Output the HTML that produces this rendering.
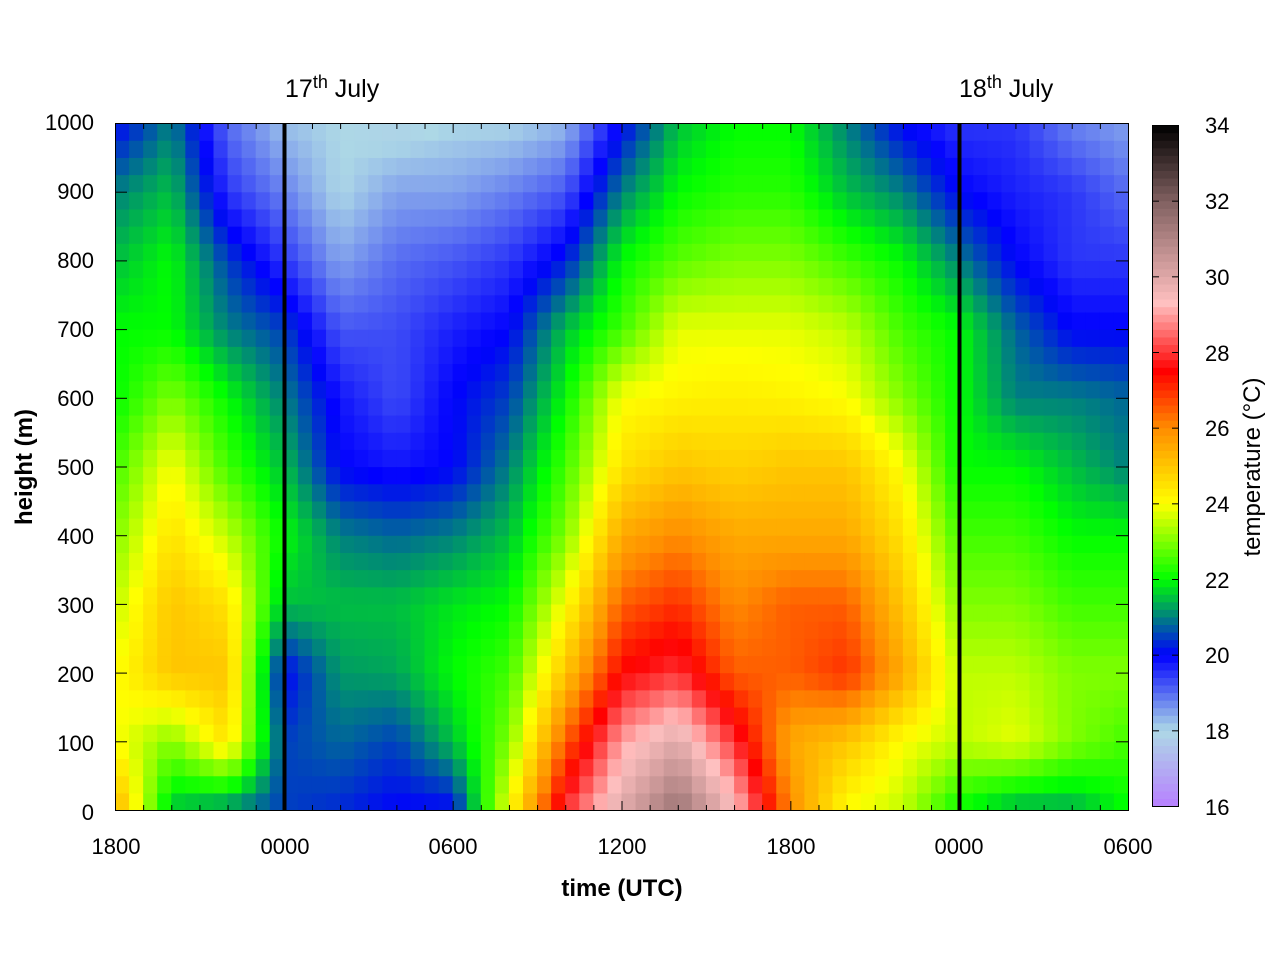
<!DOCTYPE html>
<html><head><meta charset="utf-8"><style>
body{margin:0;background:#fff;}
svg text{font-family:"Liberation Sans",sans-serif;fill:#000;}
</style></head><body>
<svg id="s" width="1280" height="960" xmlns="http://www.w3.org/2000/svg">
<g id="heat"></g>
<g id="cb"></g>
<rect x="115.5" y="123.5" width="1013" height="687" fill="none" stroke="#000" stroke-width="1"/>
<rect x="1152.5" y="125.5" width="26" height="681" fill="none" stroke="#000" stroke-width="1"/>
<line x1="284.5" y1="123" x2="284.5" y2="811" stroke="#000" stroke-width="4"/>
<line x1="959.5" y1="123" x2="959.5" y2="811" stroke="#000" stroke-width="4"/>
<g id="ticks" stroke="#000" stroke-width="1"></g>
<g font-size="22" text-anchor="end">
<text x="94" y="130">1000</text><text x="94" y="199">900</text><text x="94" y="268">800</text>
<text x="94" y="337">700</text><text x="94" y="406">600</text><text x="94" y="475">500</text>
<text x="94" y="544">400</text><text x="94" y="613">300</text><text x="94" y="682">200</text>
<text x="94" y="751">100</text><text x="94" y="820">0</text>
</g>
<g font-size="22" text-anchor="middle">
<text x="116" y="854">1800</text><text x="285" y="854">0000</text><text x="453" y="854">0600</text>
<text x="622" y="854">1200</text><text x="791" y="854">1800</text><text x="959" y="854">0000</text>
<text x="1128" y="854">0600</text>
</g>
<g font-size="22">
<text x="1205" y="133">34</text><text x="1205" y="209">32</text><text x="1205" y="285">30</text>
<text x="1205" y="361">28</text><text x="1205" y="436">26</text><text x="1205" y="512">24</text>
<text x="1205" y="588">22</text><text x="1205" y="663">20</text><text x="1205" y="739">18</text>
<text x="1205" y="815">16</text>
</g>
<text x="622" y="896" font-size="24" font-weight="bold" text-anchor="middle">time (UTC)</text>
<text transform="translate(32,467) rotate(-90)" font-size="24" font-weight="bold" text-anchor="middle">height (m)</text>
<text transform="translate(1260,467) rotate(-90)" font-size="24" text-anchor="middle">temperature (°C)</text>
<text x="285" y="97" font-size="25">17<tspan font-size="18" dy="-9">th</tspan><tspan dy="9"> July</tspan></text>
<text x="959" y="97" font-size="25">18<tspan font-size="18" dy="-9">th</tspan><tspan dy="9"> July</tspan></text>
</svg>
<script>
var G=[
[25.5,24,24,23.5,23,22.5,22,22,21.5,21,20],
[21.5,23,25,25,24.5,24,23,22,22,21.5,21],
[21,24.5,25,24.5,23.5,22.5,22,21,20.5,19.5,19],
[20.5,20.5,20,21.5,22,21.5,21,20.5,19.5,18.8,18.2],
[20.3,20.8,21.2,21.5,21,20,19.8,19.2,18.5,18,18],
[20,20.5,21.3,21.5,20.8,19.8,19.3,19.3,19,18.5,17.8],
[20,21.5,22,21.8,21,20,20,19.7,19.2,18.5,18],
[24,23,22.5,22,21.5,21,20.5,20,19.5,18.8,18],
[28,26.5,25,24,23,22.5,22,21.5,20.2,19.2,18.3],
[30,29,27.5,26.5,25.5,24.5,24,22.5,22,21,20],
[31.5,30,28,27,26,25,24.2,23.8,22.7,22,21.5],
[29.5,28,26.5,26,25.5,24.8,24.3,23.8,23,22.3,22],
[26,25.5,26.5,26.5,25.5,25,24.2,23.8,23,22.3,22],
[24,25,27,26.5,25.5,25,24,23.5,22.5,21.5,21],
[23.5,24,25.5,25,24.5,24,23,22.5,22,21,20],
[22,23.5,23.5,23,22.5,22,22,22,21,20,19.5],
[21.3,23.8,23.5,23,22.5,22,21,20.8,20,19.7,19.5],
[21.3,23,23,22.5,22,21.5,21,20,19.5,19.5,18.8],
[22,22.5,23,22.5,22,21,20.8,20,19.5,19,18.5]];
var S=[[16,[184,128,255]],[18,[173,216,230]],[20,[0,0,255]],[21,[0,128,128]],[22,[0,255,0]],[24,[255,255,0]],[26,[255,140,0]],[27.5,[255,0,0]],[29.3,[255,192,192]],[30.5,[200,150,150]],[32,[128,96,96]],[34,[0,0,0]]];
function col(T){T=Math.max(16,Math.min(34,T));for(var i=0;i<S.length-1;i++){if(T<=S[i+1][0]){var f=(T-S[i][0])/(S[i+1][0]-S[i][0]),a=S[i][1],b=S[i+1][1];return"rgb("+[0,1,2].map(function(k){return Math.round(a[k]+(b[k]-a[k])*f)}).join(",")+")";}}return"#000";}
function T(t,h){var x=t/2,y=h/100;var i=Math.min(17,Math.floor(x)),j=Math.min(9,Math.floor(y));var fx=x-i,fy=y-j;
return G[i][j]*(1-fx)*(1-fy)+G[i+1][j]*fx*(1-fy)+G[i][j+1]*(1-fx)*fy+G[i+1][j+1]*fx*fy;}
var h="",NX=72,NY=40,W=1013/NX,H=687/NY;
for(var a=0;a<NX;a++)for(var b=0;b<NY;b++){var t=(a+0.5)*36/NX,z=(b+0.5)*1000/NY;
h+='<rect x="'+(115+a*W).toFixed(2)+'" y="'+(810-(b+1)*H).toFixed(2)+'" width="'+(W+0.6).toFixed(2)+'" height="'+(H+0.6).toFixed(2)+'" fill="'+col(T(t,z))+'"/>';}
document.getElementById("heat").innerHTML=h;
h="";for(var k=0;k<90;k++){var v=16+(k+0.5)*18/90;h+='<rect x="1153" y="'+(806-(k+1)*681/90).toFixed(2)+'" width="25" height="'+(681/90+0.6).toFixed(2)+'" fill="'+col(v)+'"/>';}
document.getElementById("cb").innerHTML=h;
h="";for(var i=0;i<=36;i++){var x=115.5+i*1013/36,L=(i%6==0)?10:6;h+='<line x1="'+x+'" y1="123" x2="'+x+'" y2="'+(123+L)+'"/><line x1="'+x+'" y1="811" x2="'+x+'" y2="'+(811-L)+'"/>';}
for(var j=0;j<=10;j++){var y=810.5-j*68.7;h+='<line x1="115" y1="'+y+'" x2="127" y2="'+y+'"/><line x1="1128" y1="'+y+'" x2="1116" y2="'+y+'"/>';}
for(var j=0;j<=9;j++){var y=806.5-j*681/9;h+='<line x1="1153" y1="'+y+'" x2="1159" y2="'+y+'"/><line x1="1178" y1="'+y+'" x2="1172" y2="'+y+'"/>';}
document.getElementById("ticks").innerHTML=h;
</script>
</body></html>
